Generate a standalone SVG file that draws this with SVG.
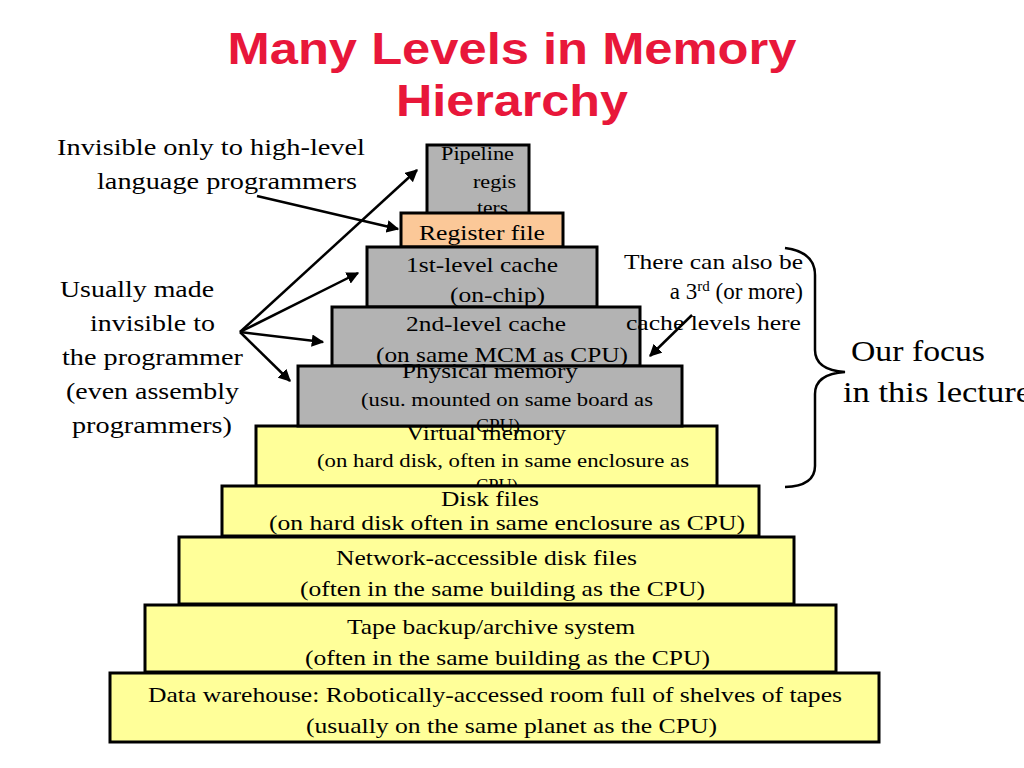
<svg xmlns="http://www.w3.org/2000/svg" width="1024" height="768" viewBox="0 0 1024 768">
<style>
.t{font-family:"Liberation Serif","Times New Roman",serif;fill:#000}
.title{font-family:"Liberation Sans",Arial,sans-serif;font-weight:bold;fill:#e8173a;font-size:44px}
.g{fill:#b3b3b3;stroke:#000;stroke-width:3}
.o{fill:#fbc898;stroke:#000;stroke-width:3}
.y{fill:#ffff99;stroke:#000;stroke-width:3}
.c{stroke:#000;stroke-width:2.5;fill:none}
</style>
<defs>
<marker id="ah" viewBox="0 0 10 10" refX="9" refY="5" markerWidth="5" markerHeight="5" orient="auto" markerUnits="strokeWidth">
<path d="M0,0 L10,5 L0,10 z" fill="#000"/>
</marker>
</defs>
<rect width="1024" height="768" fill="#fff"/>
<g id="title">
<text class="title" x="512" y="64" text-anchor="middle" textLength="569" lengthAdjust="spacingAndGlyphs">Many Levels in Memory</text>
<text class="title" x="512" y="116" text-anchor="middle" textLength="232" lengthAdjust="spacingAndGlyphs">Hierarchy</text>
</g>
<g id="pipeline">
<rect class="g" x="427" y="145" width="102" height="69"/>
<text class="t" x="441" y="160" font-size="19" textLength="73" lengthAdjust="spacingAndGlyphs">Pipeline</text>
<text class="t" x="473" y="188" font-size="19" textLength="43" lengthAdjust="spacingAndGlyphs">regis</text>
<text class="t" x="477" y="214" font-size="19" textLength="31" lengthAdjust="spacingAndGlyphs">ters</text>
</g>
<g id="register-file">
<rect class="o" x="401" y="213" width="162" height="34"/>
<text class="t" x="419" y="240" font-size="21" textLength="126" lengthAdjust="spacingAndGlyphs">Register file</text>
</g>
<g id="l1-cache">
<rect class="g" x="367" y="247" width="230" height="60"/>
<text class="t" x="406" y="272" font-size="21" textLength="152" lengthAdjust="spacingAndGlyphs">1st-level cache</text>
<text class="t" x="450" y="302" font-size="21" textLength="95" lengthAdjust="spacingAndGlyphs">(on-chip)</text>
</g>
<g id="l2-cache">
<rect class="g" x="332" y="307" width="308" height="59"/>
<text class="t" x="406" y="331" font-size="21" textLength="160" lengthAdjust="spacingAndGlyphs">2nd-level cache</text>
<text class="t" x="376" y="362" font-size="21" textLength="252" lengthAdjust="spacingAndGlyphs">(on same MCM as CPU)</text>
</g>
<g id="virtual-memory">
<rect class="y" x="256" y="426" width="461" height="60"/>
<text class="t" x="406" y="440" font-size="21" textLength="160" lengthAdjust="spacingAndGlyphs">Virtual memory</text>
<text class="t" x="317" y="467" font-size="19" textLength="372" lengthAdjust="spacingAndGlyphs">(on hard disk, often in same enclosure as</text>
<text class="t" x="476" y="492" font-size="19" textLength="42" lengthAdjust="spacingAndGlyphs">CPU)</text>
</g>
<g id="physical-memory">
<rect class="g" x="298" y="366" width="384" height="60"/>
<text class="t" x="402" y="378" font-size="21" textLength="176" lengthAdjust="spacingAndGlyphs">Physical memory</text>
<text class="t" x="361" y="406" font-size="19" textLength="292" lengthAdjust="spacingAndGlyphs">(usu. mounted on same board as</text>
<text class="t" x="476" y="432" font-size="19" textLength="44" lengthAdjust="spacingAndGlyphs">CPU)</text>
</g>
<g id="disk-files">
<rect class="y" x="222" y="486" width="537" height="50"/>
<text class="t" x="441" y="506" font-size="21" textLength="98" lengthAdjust="spacingAndGlyphs">Disk files</text>
<text class="t" x="269" y="530" font-size="21" textLength="476" lengthAdjust="spacingAndGlyphs">(on hard disk often in same enclosure as CPU)</text>
</g>
<g id="network-disk">
<rect class="y" x="179" y="537" width="615" height="67"/>
<text class="t" x="336" y="565" font-size="22" textLength="301" lengthAdjust="spacingAndGlyphs">Network-accessible disk files</text>
<text class="t" x="300" y="596" font-size="22" textLength="405" lengthAdjust="spacingAndGlyphs">(often in the same building as the CPU)</text>
</g>
<g id="tape-backup">
<rect class="y" x="145" y="605" width="691" height="67"/>
<text class="t" x="347" y="634" font-size="22" textLength="288" lengthAdjust="spacingAndGlyphs">Tape backup/archive system</text>
<text class="t" x="305" y="665" font-size="22" textLength="405" lengthAdjust="spacingAndGlyphs">(often in the same building as the CPU)</text>
</g>
<g id="data-warehouse">
<rect class="y" x="110" y="673" width="769" height="69"/>
<text class="t" x="148" y="702" font-size="22" textLength="694" lengthAdjust="spacingAndGlyphs">Data warehouse: Robotically-accessed room full of shelves of tapes</text>
<text class="t" x="306" y="733" font-size="22" textLength="411" lengthAdjust="spacingAndGlyphs">(usually on the same planet as the CPU)</text>
</g>
<g id="label-invisible-hll">
<text class="t" x="57" y="155" font-size="23" textLength="308" lengthAdjust="spacingAndGlyphs">Invisible only to high-level</text>
<text class="t" x="97" y="189" font-size="23" textLength="260" lengthAdjust="spacingAndGlyphs">language programmers</text>
</g>
<g id="label-usually-invisible">
<text class="t" x="60" y="297" font-size="23" textLength="154" lengthAdjust="spacingAndGlyphs">Usually made</text>
<text class="t" x="90" y="331" font-size="23" textLength="125" lengthAdjust="spacingAndGlyphs">invisible to</text>
<text class="t" x="62" y="365" font-size="23" textLength="181" lengthAdjust="spacingAndGlyphs">the programmer</text>
<text class="t" x="66" y="399" font-size="23" textLength="173" lengthAdjust="spacingAndGlyphs">(even assembly</text>
<text class="t" x="72" y="433" font-size="23" textLength="160" lengthAdjust="spacingAndGlyphs">programmers)</text>
</g>
<g id="label-3rd-cache">
<text class="t" x="624" y="269" font-size="22" textLength="179" lengthAdjust="spacingAndGlyphs">There can also be</text>
<text class="t" x="803" y="299" font-size="23" text-anchor="end">a 3<tspan font-size="15" dy="-8">rd</tspan><tspan dy="8"> (or more)</tspan></text>
<text class="t" x="626" y="330" font-size="22" textLength="175" lengthAdjust="spacingAndGlyphs">cache levels here</text>
</g>
<g id="label-focus">
<text class="t" x="851" y="361" font-size="30" textLength="134" lengthAdjust="spacingAndGlyphs">Our focus</text>
<text class="t" x="843" y="402" font-size="30" textLength="188" lengthAdjust="spacingAndGlyphs">in this lecture</text>
</g>
<g id="connectors">
<line class="c" x1="257" y1="196" x2="398" y2="229" marker-end="url(#ah)"/>
<line class="c" x1="240" y1="332" x2="417" y2="170" marker-end="url(#ah)"/>
<line class="c" x1="240" y1="332" x2="358" y2="273" marker-end="url(#ah)"/>
<line class="c" x1="240" y1="332" x2="323" y2="342" marker-end="url(#ah)"/>
<line class="c" x1="240" y1="332" x2="290" y2="381" marker-end="url(#ah)"/>
<line class="c" x1="692" y1="315" x2="650" y2="356" marker-end="url(#ah)"/>
<path class="c" d="M785,248 Q815,252 815,275 L815,350 Q815,370 845,372 Q815,374 815,394 L815,466 Q815,486 785,487"/>
</g>
</svg>
